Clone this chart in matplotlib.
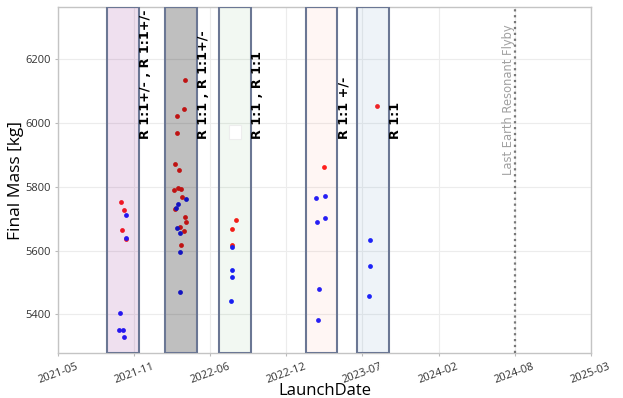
import numpy as np
import pandas as pd
import matplotlib.pyplot as plt
import matplotlib.dates as mdates

# launch opportunities (red / blue families)
red_dates = ["2021-10-22", "2021-10-30", "2021-10-24", "2021-11-02",
             "2022-04-08", "2022-04-04", "2022-03-17", "2022-03-16", "2022-03-12",
             "2022-03-22", "2022-03-09", "2022-03-20", "2022-03-28", "2022-03-30",
             "2022-03-11", "2022-04-06", "2022-04-11", "2022-03-25", "2022-04-04",
             "2022-03-28",
             "2022-08-19", "2022-08-09", "2022-08-08",
             "2023-04-09",
             "2023-08-24"]
red_mass = [5752, 5728, 5664, 5637,
            6137, 6043, 6023, 5968, 5873,
            5854, 5789, 5796, 5794, 5768,
            5731, 5705, 5691, 5673, 5661,
            5616,
            5695, 5668, 5618,
            5862,
            6054]

blue_dates = ["2021-11-02", "2021-11-02", "2021-10-17", "2021-10-16", "2021-10-26",
              "2021-10-28",
              "2022-04-10", "2022-03-20", "2022-03-15", "2022-03-18", "2022-03-25",
              "2022-03-25", "2022-03-24",
              "2022-08-10", "2022-08-09", "2022-08-09", "2022-08-07",
              "2023-03-18", "2023-04-10", "2023-03-20", "2023-04-10", "2023-03-26",
              "2023-03-24",
              "2023-08-08", "2023-08-07", "2023-08-05"]
blue_mass = [5710, 5640, 5403, 5349, 5349,
             5327,
             5763, 5745, 5735, 5670, 5656,
             5595, 5471,
             5611, 5540, 5516, 5442,
             5765, 5770, 5688, 5702, 5478,
             5383,
             5632, 5550, 5456]

# launch windows and their resonance labels
win_start = ["2021-09-15", "2022-02-14", "2022-07-06", "2023-02-19", "2023-07-04"]
win_end = ["2021-12-08", "2022-05-09", "2022-09-27", "2023-05-13", "2023-09-26"]
win_label = ["R 1:1+/- , R 1:1+/-", "R 1:1 , R 1:1+/-", "R 1:1 , R 1:1",
             "R 1:1 +/-", "R 1:1"]
win_face = [(0.5, 0.0, 0.5, 0.12), (0.0, 0.0, 0.0, 0.25), (0.0, 0.5, 0.0, 0.05),
            (1.0, 0.45, 0.3, 0.06), (0.27, 0.51, 0.71, 0.09)]

flyby_date = "2024-08-21"
flyby_label = "Last Earth Resonant Flyby"

x_start = pd.Timestamp("2021-05-09")
tick_step = pd.Timedelta(days=200)
n_ticks = 8

fig = plt.figure(figsize=(6.23, 3.98), dpi=100)
ax = fig.add_axes([0.0936, 0.113, 0.8544, 0.8687])

ax.scatter(pd.to_datetime(red_dates), red_mass, s=12, color="#ff1a1a", zorder=2, linewidths=0)
ax.scatter(pd.to_datetime(blue_dates), blue_mass, s=12, color="#1a1aff", zorder=2, linewidths=0)

for s, e, lab, fc in zip(win_start, win_end, win_label, win_face):
    ax.axvspan(pd.Timestamp(s), pd.Timestamp(e), facecolor=fc,
               edgecolor="#6b7794", linewidth=1.5, zorder=3)
    ax.text(pd.Timestamp(e), 5950, lab, rotation=90, ha="left", va="bottom",
            fontsize=9.2, fontweight="bold", family="DejaVu Sans", zorder=4)

# small empty box left over in the middle window
mid = pd.Timestamp(win_start[2]) + (pd.Timestamp(win_end[2]) - pd.Timestamp(win_start[2])) / 2
ax.text(mid, 5958, "   ", ha="center", va="bottom", fontsize=5.5,
        bbox=dict(facecolor="white", edgecolor="#ededed", linewidth=0.8, pad=1.5), zorder=4)

ax.axvline(pd.Timestamp(flyby_date), color="#777777", linestyle=":", linewidth=1.6, zorder=3)
ax.text(pd.Timestamp(flyby_date), 5836, flyby_label, rotation=90, ha="right", va="bottom",
        fontsize=8.3, color="#a0a0a0", family="DejaVu Sans")

ticks = [x_start + k * tick_step for k in range(n_ticks)]
ax.set_xlim(ticks[0], ticks[-1])
ax.set_xticks(ticks)
ax.xaxis.set_major_formatter(mdates.DateFormatter("%Y-%m"))
ax.set_ylim(5278, 6364)
ax.set_yticks([5400, 5600, 5800, 6000, 6200])

for lbl in ax.get_xticklabels():
    lbl.set_rotation(20)
ax.tick_params(labelsize=8, length=2, color="#bbbbbb", labelcolor="#333333")
for lbl in ax.get_xticklabels() + ax.get_yticklabels():
    lbl.set_family("Open Sans")

ax.grid(True, color="#ececec", linewidth=0.8, zorder=0)
ax.set_axisbelow(True)
for sp in ax.spines.values():
    sp.set_color("#c4c4c4")
    sp.set_linewidth(1.0)

ax.set_xlabel("LaunchDate", fontsize=12, family="Open Sans", labelpad=-2)
ax.set_ylabel("Final Mass [kg]", fontsize=12.5, family="Open Sans", labelpad=1)

fig.savefig("out.png", dpi=100)
